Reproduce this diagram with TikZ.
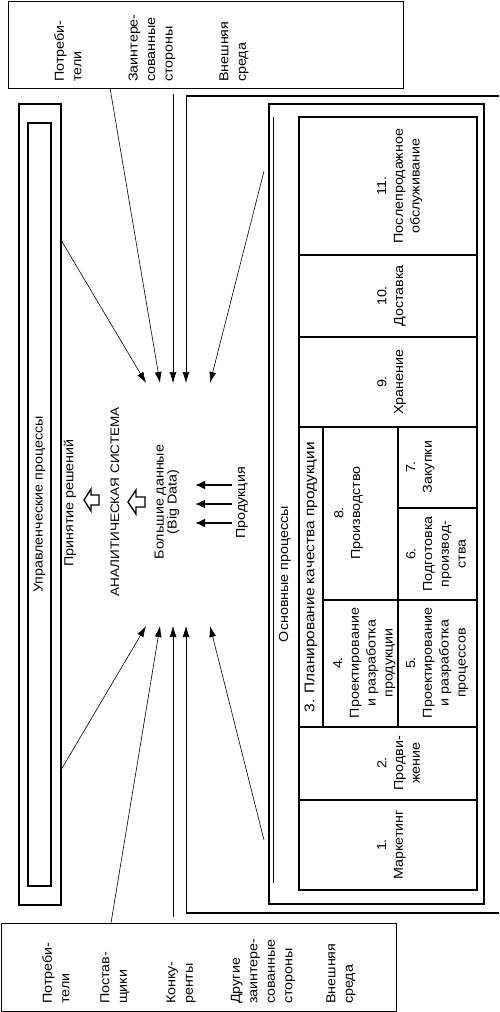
\documentclass[tikz,border=0pt]{standalone}
\usepackage{fontspec}
\setmainfont{Liberation Sans}[FakeStretch=1.1]
\usetikzlibrary{arrows.meta}

\begin{document}
\begin{tikzpicture}[x=1pt,y=-1pt,
    box/.style={draw, line width=1.1pt, inner sep=0pt},
    vtxt/.style={rotate=90, inner sep=0pt, font=\fontsize{13}{17.5}\selectfont},
    lbl/.style={vtxt, anchor=west, align=left},
    celltxt/.style={vtxt, anchor=north, align=center, font=\fontsize{13}{16.8}\selectfont},
    cellbox/.style={draw, line width=1.3pt},
    arr/.style={-{Latex[length=11pt,width=7pt]}, line width=0.6pt},
    fat/.style={-{Latex[length=10pt,width=9pt]}, line width=2.2pt},
    hollow/.style={draw, line width=1.3pt, line join=miter}]

\useasboundingbox (0,0) rectangle (499,1012);

% External environment (top)
\node[box, minimum width=395pt, minimum height=87pt, anchor=north west] (envtop) at (8,1) {};
\node[lbl] (tcons) at (68,82) {Потреби-\\тели};
\node[lbl] (tstake) at (152,82) {Заинтере-\\сованные\\стороны};
\node[lbl] (tenv) at (234,82) {Внешняя\\среда};

% External environment (bottom)
\node[box, minimum width=395pt, minimum height=88pt, anchor=north west] (envbot) at (1,923) {};
\node[lbl] (bcons) at (56,1004) {Потреби-\\тели};
\node[lbl] (bsupp) at (115,1004) {Постав-\\щики};
\node[lbl] (bcomp) at (181,1004) {Конку-\\ренты};
\node[lbl] (bstake) at (263,1004) {Другие\\заинтере-\\сованные\\стороны};
\node[lbl] (benv) at (341,1004) {Внешняя\\среда};

% Management processes
\node[box, minimum width=42pt, minimum height=801pt] (mgmtbox) at (40,504.5) {};
\node[box, vtxt, minimum width=763pt, minimum height=23pt] (mgmt) at (39.5,504.5) {Управленческие процессы};

% Analytical system
\node[vtxt] (decision) at (70,503) {Принятие решений};
\node[vtxt, font=\fontsize{12.3}{17}\selectfont] (asys) at (115,502) {АНАЛИТИЧЕСКАЯ СИСТЕМА};
\node[vtxt, align=center, font=\fontsize{13}{13}\selectfont] (bigdata) at (167,502) {Большие данные\\(Big Data)};
\node[vtxt] (prod) at (242,503) {Продукция};

\draw[hollow] (84,500) -- (91,489) -- (91,495) -- (99,495) -- (99,505) -- (91,505) -- (91,511) -- cycle;
\draw[hollow] (128,502) -- (136,490) -- (136,497) -- (145,497) -- (145,507) -- (136,507) -- (136,514) -- cycle;

\foreach \y [count=\i] in {485,504,523}{
  \coordinate (pr\i) at (232,\y);
  \coordinate (bd\i) at (195,\y);
  \draw[fat] (pr\i) -- (bd\i);
}

% Main processes frame
\coordinate (frtop) at (186,96);
\coordinate (frbot) at (186,913);
\draw[line width=1.6pt] (499,96) -- (frtop);
\draw[line width=1.1pt] (499,913) -- (frbot);

\node[box, line width=1.6pt, minimum width=215pt, minimum height=800pt, anchor=north west] (main) at (268,103) {};
\draw (273,117) -- (273,883);
\node[vtxt] (maintxt) at (285,574) {Основные процессы};

% Process cells
\draw[cellbox] (299,117) rectangle (477,255);
\draw[cellbox] (299,255) rectangle (477,337);
\draw[cellbox] (299,337) rectangle (477,427);
\draw[cellbox] (299,427) rectangle (323,727);
\draw[cellbox] (323,427) rectangle (398,600);
\draw[cellbox] (398,427) rectangle (477,508);
\draw[cellbox] (398,508) rectangle (477,600);
\draw[cellbox] (323,600) rectangle (398,727);
\draw[cellbox] (398,600) rectangle (477,727);
\draw[cellbox] (299,727) rectangle (477,800);
\draw[cellbox] (299,800) rectangle (477,890);

\node[celltxt] (p11) at (377,186) {11.\\Послепродажное\\обслуживание};
\node[celltxt] (p10) at (377,296) {10.\\Доставка};
\node[celltxt] (p9) at (377,382) {9.\\Хранение};
\node[vtxt, font=\fontsize{14}{17}\selectfont] (p3) at (311,577) {3. Планирование качества продукции};
\node[celltxt] (p8) at (334,513) {8.\\Производство};
\node[celltxt] (p7) at (406,467) {7.\\Закупки};
\node[celltxt] (p6) at (406,554) {6.\\Подготовка\\производ-\\ства};
\node[celltxt] (p4) at (333,663) {4.\\Проектирование\\и разработка\\продукции};
\node[celltxt] (p5) at (406,663) {5.\\Проектирование\\и разработка\\процессов};
\node[celltxt] (p2) at (377,763) {2.\\Продви-\\жение};
\node[celltxt] (p1) at (377,845) {1.\\Маркетинг};

% Information flows
\coordinate (s1) at (61,240);  \coordinate (t1) at (146,383);
\coordinate (s2) at (110,88);  \coordinate (t2) at (160,383);
\coordinate (s3) at (173,94);  \coordinate (t3) at (173,383);
\coordinate (t4) at (186,383);
\coordinate (s5) at (264,171); \coordinate (t5) at (210,383);
\draw[arr] (s1) -- (t1);
\draw[arr] (s2) -- (t2);
\draw[arr] (s3) -- (t3);
\draw[arr] (frtop) -- (t4);
\draw[arr] (s5) -- (t5);

\coordinate (u1) at (61,770);  \coordinate (v1) at (146,626);
\coordinate (u2) at (111,923); \coordinate (v2) at (160,626);
\coordinate (u3) at (173,917); \coordinate (v3) at (173,626);
\coordinate (v4) at (186,626);
\coordinate (u5) at (264,840); \coordinate (v5) at (210,626);
\draw[arr] (u1) -- (v1);
\draw[arr] (u2) -- (v2);
\draw[arr] (u3) -- (v3);
\draw[arr] (frbot) -- (v4);
\draw[arr] (u5) -- (v5);
\end{tikzpicture}
\end{document}
